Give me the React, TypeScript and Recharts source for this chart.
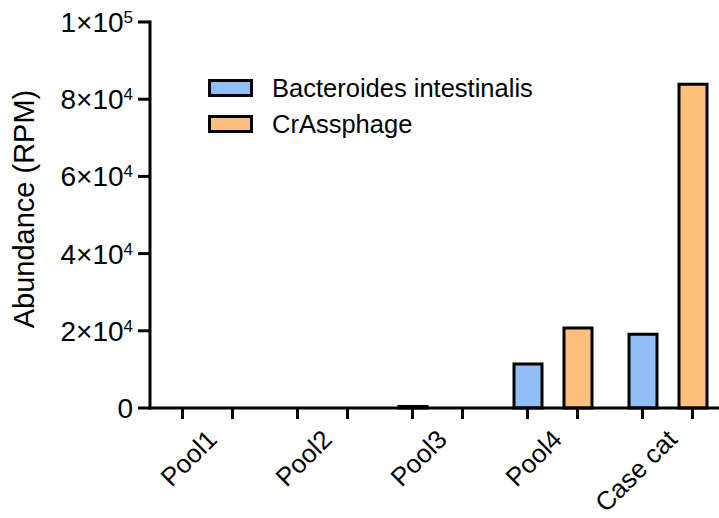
import React from 'react';
import { BarChart, Bar, XAxis, YAxis, Legend } from 'recharts';

const categories = ['Pool1', 'Pool2', 'Pool3', 'Pool4', 'Case cat'];
const bacteroides = [0, 0, 400, 11400, 19100];
const crassphage = [0, 0, 0, 20700, 83900];
const yTicks = [0, 20000, 40000, 60000, 80000, 100000];

const seriesNames = ['Bacteroides intestinalis', 'CrAssphage'];
const BLUE = '#92BEF6';
const ORANGE = '#FFC07F';
const FONT = '"Liberation Sans", Arial, sans-serif';

const BAR_SIZE = 28;
const BAR_GAP = 22;

const data = categories.map((name, i) => ({
    name,
    bacteroides: bacteroides[i],
    crassphage: crassphage[i],
}));

const YTick = (props: any) => {
    const { x, y, payload } = props;
    const v = payload.value as number;
    if (v === 0) {
        return (
            <text x={x} y={y + 10} textAnchor="end" fontSize={28} fontFamily={FONT} fill="#000">
                0
            </text>
        );
    }
    const exp = Math.floor(Math.log10(v));
    const mant = Math.round(v / Math.pow(10, exp));
    return (
        <text x={x} y={y + 10} textAnchor="end" fontSize={28} fontFamily={FONT} fill="#000">
            <tspan>{`${mant}×10`}</tspan>
            <tspan fontSize={17} dy={-9}>{String(exp)}</tspan>
        </text>
    );
};

const XTick = (props: any) => {
    const { x, y, payload } = props;
    const half = (BAR_SIZE + BAR_GAP) / 2;
    const lx = x + 11;
    const ly = y + 22;
    return (
        <g>
            <line x1={x - half} x2={x - half} y1={y - 11} y2={y} stroke="#000" strokeWidth={3} />
            <line x1={x + half} x2={x + half} y1={y - 11} y2={y} stroke="#000" strokeWidth={3} />
            <text
                x={lx}
                y={ly}
                textAnchor="end"
                transform={`rotate(-45, ${lx}, ${ly})`}
                fontSize={26}
                fontFamily={FONT}
                fill="#000"
            >
                {payload.value}
            </text>
        </g>
    );
};

const YLabel = (props: any) => {
    const vb = props.viewBox;
    const cx = 34;
    const cy = vb.y + vb.height / 2 - 6;
    return (
        <text
            x={cx}
            y={cy}
            textAnchor="middle"
            transform={`rotate(-90, ${cx}, ${cy})`}
            fontSize={29}
            fontFamily={FONT}
            fill="#000"
        >
            Abundance (RPM)
        </text>
    );
};

const LegendBox = () => {
    const colors = [BLUE, ORANGE];
    return (
        <div style={{ fontFamily: FONT, fontSize: 25.5, color: '#000' }}>
            {seriesNames.map((n, i) => (
                <div key={n} style={{ display: 'flex', alignItems: 'center', height: 36 }}>
                    <svg width={45} height={18} style={{ marginRight: 19 }}>
                        <rect x={1.5} y={1.5} width={42} height={15} fill={colors[i]} stroke="#000" strokeWidth={3} />
                    </svg>
                    <span style={{ whiteSpace: 'nowrap' }}>{n}</span>
                </div>
            ))}
        </div>
    );
};

const axisLine = { stroke: '#000', strokeWidth: 3, strokeLinecap: 'square' as const };

export default function App() {
    return (
        <div
            style={{
                position: 'absolute',
                left: 0,
                top: 0,
                width: 719,
                height: 518,
                overflow: 'hidden',
                background: '#fff',
            }}
        >
            <BarChart
                width={725}
                height={518}
                data={data}
                margin={{ top: 22, right: 0, left: 0, bottom: 0 }}
                barSize={BAR_SIZE}
                barGap={BAR_GAP}
            >
                <XAxis
                    dataKey="name"
                    height={110}
                    axisLine={axisLine}
                    tickLine={false}
                    tickSize={11}
                    tickMargin={0}
                    interval={0}
                    tick={<XTick />}
                />
                <YAxis
                    width={150}
                    domain={[0, 100000]}
                    ticks={yTicks}
                    interval={0}
                    axisLine={axisLine}
                    tickLine={{ stroke: '#000', strokeWidth: 3 }}
                    tickSize={12}
                    tickMargin={5}
                    tick={<YTick />}
                    label={(p: any) => <YLabel {...p} />}
                />
                <Legend
                    layout="vertical"
                    align="center"
                    verticalAlign="middle"
                    wrapperStyle={{ top: 70, left: 208, width: 'auto' }}
                    content={() => <LegendBox />}
                />
                <Bar dataKey="bacteroides" fill={BLUE} stroke="#000" strokeWidth={3} isAnimationActive={false} />
                <Bar dataKey="crassphage" fill={ORANGE} stroke="#000" strokeWidth={3} isAnimationActive={false} />
            </BarChart>
        </div>
    );
}
